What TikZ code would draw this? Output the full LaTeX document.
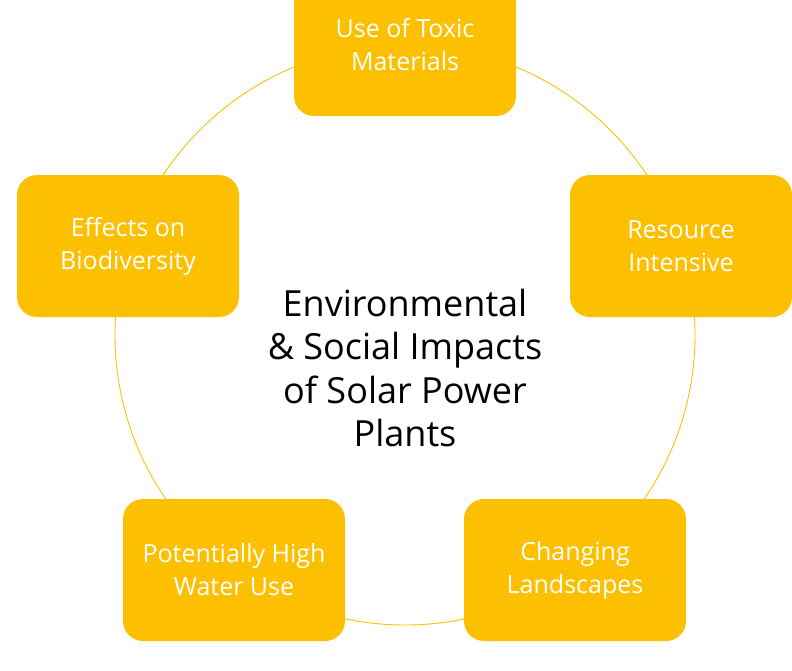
\documentclass[tikz,border=0pt]{standalone}
\usepackage{fontspec}
\setmainfont{Open Sans}
\definecolor{gold}{HTML}{FDC000}
\definecolor{ring}{HTML}{F5C400}
\tikzset{
  x=1pt, y=-1pt,
  item/.style={fill=gold, rounded corners=20pt, minimum width=222pt, minimum height=142pt,
    text=white, align=center, inner sep=0pt, font=\fontsize{25}{33}\selectfont},
  title/.style={align=center, text=black, font=\fontsize{36}{43.5}\selectfont}
}
\begin{document}
\begin{tikzpicture}
\useasboundingbox (0,0) rectangle (792,670);
\draw[ring, line width=0.9pt] (405,335) circle[radius=290];
\begin{scope}
\clip (0,0) rectangle (792,670);
\node[item] (toxic) at (405,45) {Use of Toxic\\Materials};
\end{scope}
\node[item] (resource) at (681,246) {Resource\\Intensive};
\node[item] (land) at (575,570) {Changing\\Landscapes};
\node[item] (water) at (234,570) {Potentially High\\Water Use};
\node[item] (bio) at (128,246) {Effects on\\Biodiversity};
\node[title] (center) at (405,368) {Environmental\\\& Social Impacts\\of Solar Power\\Plants};
\end{tikzpicture}
\end{document}
